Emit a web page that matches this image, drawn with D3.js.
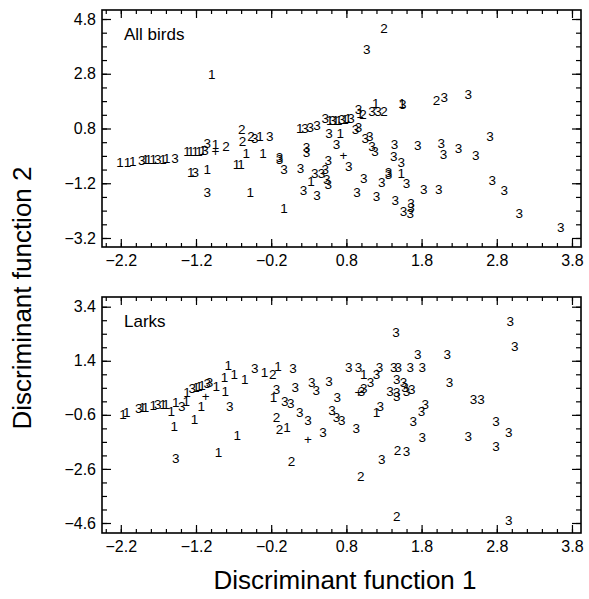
<!DOCTYPE html>
<html>
<head>
<meta charset="utf-8">
<script src="https://cdn.jsdelivr.net/npm/d3@7"></script>
<style>
  body { margin: 0; background: #fff; }
  svg { font-family: "Liberation Sans", Arial, Helvetica, sans-serif; }
  .frame { fill: none; stroke: #000; stroke-width: 1.6; }
  .axis path { display: none; }
  .axis line { stroke: #000; stroke-width: 1.2; }
  .axis text { font-size: 16px; fill: #000; }
  .pt { font-size: 13.5px; fill: #000; }
</style>
</head>
<body>
<div id="chart"></div>
<script>
// ---- data ----
const xMajor = [-2.2, -1.2, -0.2, 0.8, 1.8, 2.8, 3.8];
const topMajor = [4.8, 2.8, 0.8, -1.2, -3.2];
const botMajor = [3.4, 1.4, -0.6, -2.6, -4.6];

const birds1 = [[-0.99,2.79],[-2.21,-0.46],[-2.11,-0.44],[-2.04,-0.42],[-1.87,-0.35],[-1.83,-0.33],[-1.77,-0.35],
  [-1.64,-0.33],[-1.59,-0.31],[-1.32,-0.05],[-1.27,-0.05],[-1.21,-0.04],[-1.16,-0.04],[-1.11,-0.02],[-0.94,0.2],
  [-0.35,0.5],[-0.53,-0.13],[-0.31,-0.1],[-0.66,-0.53],[-0.6,-0.51],[-1.27,-0.81],[-1.05,-0.71],[-0.48,-1.52],
  [-0.03,-2.11],[0.18,0.79],[0.58,1.08],[0.66,1.10],[0.70,1.11],[0.78,1.13],[0.82,1.15],[0.98,1.33],[1.19,1.72],
  [1.54,1.70],[0.72,0.6],[0.33,-1.14],[1.53,-0.83]];
const birds2 = [[-0.8,0.16],[-0.59,0.75],[-0.58,0.32],[-0.47,0.5],[1.02,1.31],[1.3,1.41],[1.3,4.46],[2.0,1.84]];
const birds3 = [[-1.92,-0.36],[-1.71,-0.35],[-1.48,-0.29],[-1.05,0.27],[-1.08,-0.02],[-0.42,0.45],[-0.22,0.5],
  [-1.21,-0.81],[-1.05,-1.52],[-0.09,-0.25],[-0.09,-0.33],[-0.03,-0.69],[0.19,-0.67],[0.27,0.11],[0.27,-0.07],
  [0.25,0.81],[0.32,0.83],[0.41,0.91],[0.52,1.18],[0.62,1.09],[0.74,1.12],[0.86,1.18],[0.96,1.48],[1.14,1.41],
  [1.22,1.41],[1.55,1.68],[1.07,3.67],[2.1,1.94],[2.42,2.05],[2.71,0.5],[0.57,0.63],[0.67,0.2],[0.83,-0.58],
  [0.92,0.75],[0.96,0.83],[1.05,0.45],[1.11,0.5],[1.14,0.14],[1.18,-0.04],[1.44,0.2],[1.43,-0.23],[1.53,-0.43],
  [1.75,0.18],[2.06,0.24],[2.09,-0.16],[2.29,0.08],[2.52,-0.2],[0.56,-0.38],[0.52,-0.71],[0.38,-0.83],[0.47,-0.83],
  [0.54,-1.08],[0.56,-1.26],[0.23,-1.48],[0.41,-1.66],[1.03,-1.01],[0.94,-1.54],[1.2,-1.69],[1.27,-1.17],
  [1.36,-0.89],[1.36,-0.82],[1.6,-1.2],[1.45,-1.84],[1.66,-1.95],[1.56,-2.23],[1.66,-2.1],[1.65,-2.32],
  [1.83,-1.42],[2.03,-1.42],[2.74,-1.11],[2.9,-1.48],[3.1,-2.29],[3.65,-2.8]];
const birdsPlus = [[-0.94,-0.05],[0.76,-0.19]];

const larks1 = [[-2.17,-0.57],[-2.12,-0.53],[-1.91,-0.33],[-1.87,-0.31],[-1.77,-0.25],[-1.64,-0.22],[-1.6,-0.2],
  [-1.47,-0.14],[-1.33,-0.11],[-1.32,0.24],[-1.2,0.41],[-1.16,0.45],[-1.12,0.48],[-0.93,0.46],[-0.82,0.77],
  [-0.69,0.89],[-0.55,0.71],[-0.77,1.22],[-0.81,0.27],[-1.13,-0.28],[-1.53,-0.46],[-1.22,-0.77],[-1.49,-1.02],
  [-0.65,-1.35],[-0.9,-2.0],[-0.29,0.95],[-0.11,1.2],[-0.17,0.03],[0.01,-1.08],[1.03,0.89],[1.2,-0.5]];
const larks2 = [[-0.18,0.89],[-0.13,-0.71],[-0.09,-1.14],[0.07,-2.33],[1.48,-1.91],[0.99,-2.88],[1.47,-4.37]];
const larks3 = [[-1.96,-0.36],[-1.71,-0.23],[-1.25,0.37],[-1.05,0.56],[-1.02,0.58],[-1.39,-0.28],[-0.75,-0.28],
  [-1.47,-2.21],[-0.42,1.11],[0.09,1.11],[-0.13,0.34],[-0.02,-0.09],[0.06,-0.19],[0.12,0.4],[0.34,0.58],[0.4,0.31],
  [0.57,0.64],[0.68,0.05],[0.18,-0.5],[0.29,-0.8],[0.49,-1.26],[0.61,-0.43],[0.67,-0.71],[0.74,-0.8],[0.93,-1.11],
  [0.83,1.14],[0.96,1.14],[1.24,1.14],[1.2,0.89],[1.12,0.61],[1.0,0.27],[1.03,0.37],[1.43,1.14],[1.49,1.14],
  [1.65,1.14],[1.81,1.14],[1.46,2.43],[1.47,0.71],[1.56,0.58],[1.58,0.4],[1.38,0.27],[1.47,0.22],[1.47,0.09],
  [1.6,0.27],[1.67,0.34],[1.25,-0.28],[1.85,-0.22],[1.8,-0.46],[1.69,-0.83],[1.81,-1.45],[1.6,-1.95],[1.27,-2.25],
  [2.96,-4.49],[2.98,2.86],[3.04,1.91],[1.75,1.63],[2.14,1.63],[2.17,0.58],[2.49,-0.03],[2.59,-0.03],[2.79,-0.85],
  [2.96,-1.26],[2.79,-1.78],[2.42,-1.41]];
const larksPlus = [[-1.07,0.09],[0.29,-1.51],[0.96,0.22]];

const width = 589, height = 599;
const left = 102, right = 581;

const svg = d3.select("#chart").append("svg")
    .attr("width", width)
    .attr("height", height);

const x = d3.scaleLinear().domain([-2.45, 3.92]).range([left, right]);
const xMinor = d3.range(-2.4, 3.81, 0.2).map(v => +v.toFixed(1));

function drawPanel(cfg) {
    const y = d3.scaleLinear().domain(cfg.yDomain).range([cfg.bottom, cfg.top]);
    const lo = cfg.yDomain[0], hi = cfg.yDomain[1];
    const yMinor = d3.range(cfg.major[cfg.major.length - 1] - 0.5, lo, -0.5)
        .concat(d3.range(cfg.major[0], lo, -0.5))
        .filter(v => v > lo && v < hi);
    const g = svg.append("g");

    // minor ticks on all four sides
    g.append("g").attr("class", "axis").attr("transform", `translate(0,${cfg.bottom})`)
        .call(d3.axisBottom(x).tickValues(xMinor).tickSize(-4).tickFormat(""));
    g.append("g").attr("class", "axis").attr("transform", `translate(0,${cfg.top})`)
        .call(d3.axisTop(x).tickValues(xMinor).tickSize(-4).tickFormat(""));
    g.append("g").attr("class", "axis").attr("transform", `translate(${left},0)`)
        .call(d3.axisLeft(y).tickValues(yMinor).tickSize(-5).tickFormat(""));
    g.append("g").attr("class", "axis").attr("transform", `translate(${right},0)`)
        .call(d3.axisRight(y).tickValues(yMinor).tickSize(-5).tickFormat(""));

    // major ticks with labels
    g.append("g").attr("class", "axis").attr("transform", `translate(0,${cfg.bottom})`)
        .call(d3.axisBottom(x).tickValues(xMajor).tickSize(-8).tickPadding(8).tickFormat(d3.format(".1f")));
    g.append("g").attr("class", "axis").attr("transform", `translate(0,${cfg.top})`)
        .call(d3.axisTop(x).tickValues(xMajor).tickSize(-8).tickFormat(""));
    g.append("g").attr("class", "axis").attr("transform", `translate(${left},0)`)
        .call(d3.axisLeft(y).tickValues(cfg.major).tickSize(-9).tickPadding(6).tickFormat(d3.format(".1f")));
    g.append("g").attr("class", "axis").attr("transform", `translate(${right},0)`)
        .call(d3.axisRight(y).tickValues(cfg.major).tickSize(-9).tickFormat(""));

    g.append("rect").attr("class", "frame")
        .attr("x", left).attr("y", cfg.top)
        .attr("width", right - left).attr("height", cfg.bottom - cfg.top);

    g.append("text")
        .attr("x", left + 22).attr("y", cfg.top + 30)
        .attr("font-size", 17)
        .text(cfg.title);

    cfg.groups.forEach(([label, pts]) => {
        g.append("g").selectAll("text")
            .data(pts)
            .enter()
            .append("text")
            .attr("class", "pt")
            .attr("x", d => x(d[0]))
            .attr("y", d => y(d[1]))
            .attr("text-anchor", "middle")
            .attr("dominant-baseline", "central")
            .text(label);
    });
}

drawPanel({
    title: "All birds", top: 10, bottom: 247,
    yDomain: [-3.529, 5.129], major: topMajor,
    groups: [["1", birds1], ["2", birds2], ["3", birds3], ["+", birdsPlus]]
});
drawPanel({
    title: "Larks", top: 297, bottom: 533,
    yDomain: [-4.97, 3.759], major: botMajor,
    groups: [["1", larks1], ["2", larks2], ["3", larks3], ["+", larksPlus]]
});

svg.append("text")
    .attr("x", 345).attr("y", 589)
    .attr("text-anchor", "middle")
    .attr("font-size", 26)
    .text("Discriminant function 1");

svg.append("text")
    .attr("transform", "translate(31,298) rotate(-90)")
    .attr("text-anchor", "middle")
    .attr("font-size", 26)
    .text("Discriminant function 2");
</script>
</body>
</html>
